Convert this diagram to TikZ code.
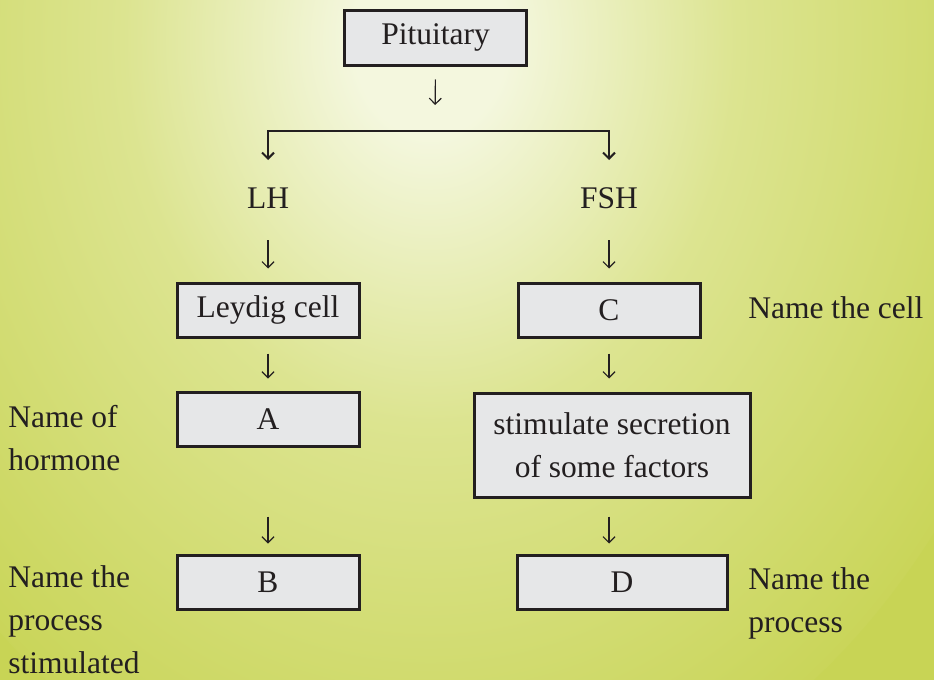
\documentclass[tikz,border=0pt]{standalone}
\usepackage{fontspec}
\setmainfont{Liberation Serif}
\usetikzlibrary{arrows.meta}
\definecolor{bgin}{HTML}{F4F7DE}
\definecolor{bgmid}{HTML}{DCE490}
\definecolor{bgout}{HTML}{C8D455}
\definecolor{boxfill}{HTML}{E6E7E8}
\definecolor{ink}{HTML}{231F20}
\newcommand{\figfont}{\fontsize{15.75}{21.5}\selectfont}
\pgfdeclareradialshading{glow}{\pgfpoint{0bp}{0bp}}{color(0bp)=(bgin); color(3bp)=(bgin); color(12bp)=(bgmid); color(26bp)=(bgout); color(50bp)=(bgout)}
\tikzset{
  hbox/.style={draw=ink, line width=1.5pt, fill=boxfill, minimum width=91pt, minimum height=27pt, inner sep=0pt, font=\figfont, text=ink},
  lbl/.style={text=ink, font=\figfont, inner sep=0pt},
  down/.style={draw=ink, line width=0.6pt, -{Straight Barb[length=3pt,width=6pt]}},
}

\begin{document}
\begin{tikzpicture}[x=0.5pt,y=-0.5pt]
\useasboundingbox (0,0) rectangle (934,680);
% background
\fill[bgout] (0,0) rectangle (934,680);
\begin{scope}
\clip (0,0) rectangle (934,680);
\shade[shading=glow] (430,40) circle[x radius=640, y radius=800];
\end{scope}

% boxes
\node[hbox, minimum height=27.5pt] (pit) at (435.5,37.5) {Pituitary};
\node[hbox] (leydig) at (268,310) {Leydig cell};
\node[hbox] (c) at (609,310) {C};
\node[hbox] (a) at (268,419) {A};
\node[hbox, minimum width=138pt, minimum height=52pt, align=center] (stim) at (612,445) {stimulate secretion\\of some factors};
\node[hbox] (b) at (268,582) {B};
\node[hbox, minimum width=105pt] (d) at (622,582) {D};

% hormones
\node[lbl] (lh) at (268,198) {LH};
\node[lbl] (fsh) at (609,198) {FSH};

% side notes
\node[lbl, anchor=west] (cellnote) at (748,308) {Name the cell};
\node[lbl, anchor=west, align=left] (hormnote) at (8,438) {Name of\\hormone};
\node[lbl, anchor=west, align=left] (procleft) at (8,620) {Name the\\process\\stimulated};
\node[lbl, anchor=west, align=left] (procright) at (748,603) {Name the\\process};

% branch
\coordinate (split) at (435,131);
\coordinate (ldrop) at (268,160);
\coordinate (rdrop) at (609,160);
\draw[down, shorten <=6.5pt, shorten >=13pt] (pit.south) -- (split);
\draw[draw=ink, line width=1pt, {Straight Barb[length=3pt,width=6pt]}-{Straight Barb[length=3pt,width=6pt]}] (ldrop) |- (split) -| (rdrop);

% left column
\draw[down, shorten <=21pt, shorten >=6.5pt] (lh.center) -- (leydig.north);
\draw[down, shorten <=7.5pt, shorten >=6pt] (leydig.south) -- (a.north);
\draw[down, shorten <=34.5pt, shorten >=5pt] (a.south) -- (b.north);

% right column
\draw[down, shorten <=21pt, shorten >=6.5pt] (fsh.center) -- (c.north);
\draw[down, shorten <=7.5pt, shorten >=6.5pt] (c.south) -- (c.south |- stim.north);
\draw[down, shorten <=9pt, shorten >=5pt] (c.south |- stim.south) -- (c.south |- d.north);
\end{tikzpicture}
\end{document}
